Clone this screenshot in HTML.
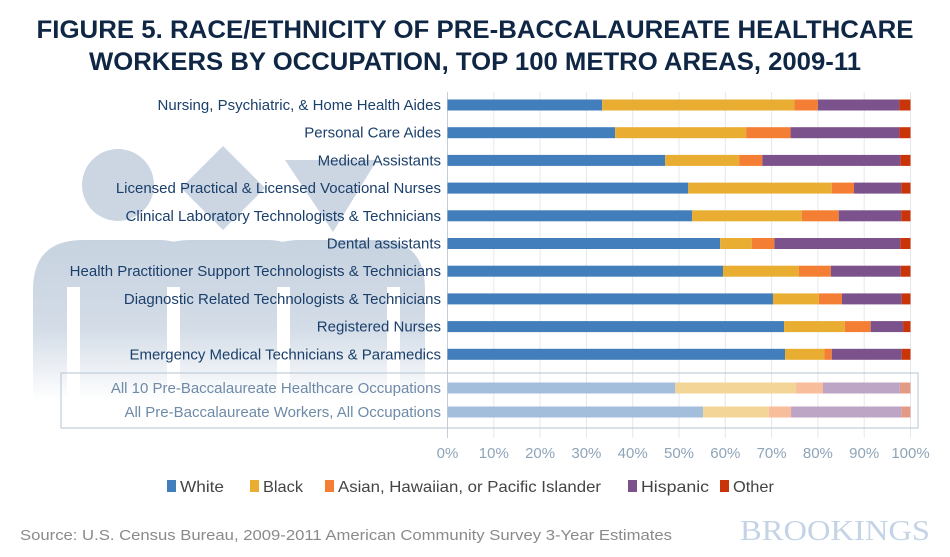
<!DOCTYPE html>
<html><head><meta charset="utf-8"><style>
html,body{margin:0;padding:0;background:#fff;}
svg{display:block;font-family:"Liberation Sans",sans-serif;}
</style></head><body>
<svg id="chart" width="950" height="557" viewBox="0 0 950 557">
<defs>
<linearGradient id="fade" x1="0" y1="0" x2="0" y2="1">
<stop offset="0" stop-color="#c7d3e0"/><stop offset="0.55" stop-color="#d3dce7"/><stop offset="1" stop-color="#ffffff"/>
</linearGradient>
</defs>
<g fill="url(#fade)">
<circle cx="118" cy="185" r="36" fill="#cbd6e2"/>
<polygon points="223,146 265,188 223,230 181,188" fill="#cbd6e2"/>
<polygon points="285,160 377,160 333,232" fill="#cbd6e2"/>
<path d="M33,400 V290 Q33,240 83,240 H160 Q200,240 205,290 V400 Z"/>
<path d="M140,400 V290 Q140,240 190,240 H268 Q310,240 312,290 V400 Z"/>
<path d="M250,400 V290 Q250,240 300,240 H378 Q425,240 425,290 V400 Z"/>
<g fill="#fff">
<rect x="67" y="287" width="13" height="120"/>
<rect x="167" y="287" width="13" height="120"/>
<rect x="277" y="287" width="13" height="120"/>
<rect x="387" y="287" width="13" height="120"/>
</g>
</g>
<g fill="#0f2744" font-weight="bold" font-size="25" text-anchor="middle">
<text x="475" y="38" textLength="877" lengthAdjust="spacingAndGlyphs">FIGURE 5. RACE/ETHNICITY OF PRE-BACCALAUREATE HEALTHCARE</text>
<text x="475" y="70" textLength="772" lengthAdjust="spacingAndGlyphs">WORKERS BY OCCUPATION, TOP 100 METRO AREAS, 2009-11</text>
</g>
<g id="grid"></g>
<rect x="61" y="373" width="857" height="55" fill="none" stroke="#b5c4d2" stroke-width="1"/>
<g id="bars"></g>
<g id="labels"></g>
<g id="ticks"></g>
<g id="legend"></g>
<text x="20" y="540" font-size="15" fill="#8a8a8a" textLength="652" lengthAdjust="spacingAndGlyphs">Source: U.S. Census Bureau, 2009-2011 American Community Survey 3-Year Estimates</text>
<text x="930" y="540" font-size="28" fill="#c4d4e6" text-anchor="end" font-family="Liberation Serif, serif" textLength="190" lengthAdjust="spacingAndGlyphs">BROOKINGS</text>
</svg>
<script>
const categories = ["Nursing, Psychiatric, & Home Health Aides","Personal Care Aides","Medical Assistants","Licensed Practical & Licensed Vocational Nurses","Clinical Laboratory Technologists & Technicians","Dental assistants","Health Practitioner Support Technologists & Technicians","Diagnostic Related Technologists & Technicians","Registered Nurses","Emergency Medical Technicians & Paramedics","All 10 Pre-Baccalaureate Healthcare Occupations","All Pre-Baccalaureate Workers, All Occupations"];
const white    = [33.4,36.2,47.0,52.0,52.8,58.9,59.5,70.3,72.7,72.9,49.2,55.2];
const black    = [41.5,28.3,16.0,31.0,23.7,6.8,16.4,9.9,13.1,8.5,26.1,14.2];
const asian    = [5.1,9.6,5.0,4.8,8.0,4.9,6.9,5.0,5.6,1.6,5.8,4.8];
const hispanic = [17.6,23.5,29.8,10.2,13.5,27.2,15.1,12.9,7.0,15.1,16.6,23.8];
const other    = [2.4,2.4,2.2,2.0,2.0,2.2,2.1,1.9,1.6,1.9,2.3,2.0];
const seriesNames = ["White","Black","Asian, Hawaiian, or Pacific Islander","Hispanic","Other"];
const tickValues = [0,10,20,30,40,50,60,70,80,90,100];
const tickLabels = ["0%","10%","20%","30%","40%","50%","60%","70%","80%","90%","100%"];

const NS="http://www.w3.org/2000/svg";
const x0=447.5, x1=910.5;
function xScale(v){return x0+(x1-x0)*v/100;}
function yCenter(i){return i<10 ? 105+i*27.7 : 388+(i-10)*24;}
const colors=["#417ebb","#e9ad31","#f47f34","#7b528b","#c93408"];
const light=["#a3bedb","#f3d597","#f8bd9a","#bda6c5","#e49b86"];
const series=[white,black,asian,hispanic,other];
function mk(tag,attrs,parent){const e=document.createElementNS(NS,tag);for(const k in attrs)e.setAttribute(k,attrs[k]);parent.appendChild(e);return e;}

const grid=document.getElementById('grid');
tickValues.forEach((t,i)=>{
  const l=mk('line',{x1:xScale(t),x2:xScale(t),y1:92,y2:438,stroke:i===0?'#c4ced8':'#e3e8ee','stroke-width':1},grid);
  
  
});
const bars=document.getElementById('bars');
const labels=document.getElementById('labels');
categories.forEach((c,i)=>{
  let acc=0;const yc=yCenter(i);
  series.forEach((s,k)=>{
    const r=mk('rect',{x:xScale(acc),y:yc-5.5,width:xScale(acc+s[i])-xScale(acc),height:11,fill:i<10?colors[k]:light[k]},bars);
    
    
    acc+=s[i];
  });
  const t=mk('text',{x:441,y:yc+5,'text-anchor':'end','font-size':15,fill:i<10?'#1a3f6b':'#6e8aa8'},labels);
  t.textContent=c;
  
  
});
const ticks=document.getElementById('ticks');
tickValues.forEach((t,i)=>{
  const e=mk('text',{x:xScale(t),y:458,'text-anchor':'middle','font-size':15,fill:'#8ea4b8'},ticks);
  e.textContent=tickLabels[i];
  
  
});
const legend=document.getElementById('legend');
const lx=[167,250,325,628,720];
const lw=[44,40,263,68,41];
seriesNames.forEach((n,k)=>{
  const r=mk('rect',{x:lx[k],y:480,width:9,height:12,fill:colors[k]},legend);
  
  
  const t=mk('text',{x:lx[k]+13,y:492,'font-size':16,fill:'#444',textLength:lw[k],lengthAdjust:'spacingAndGlyphs'},legend);
  t.textContent=n;
  
  
});
</script>
</body></html>
